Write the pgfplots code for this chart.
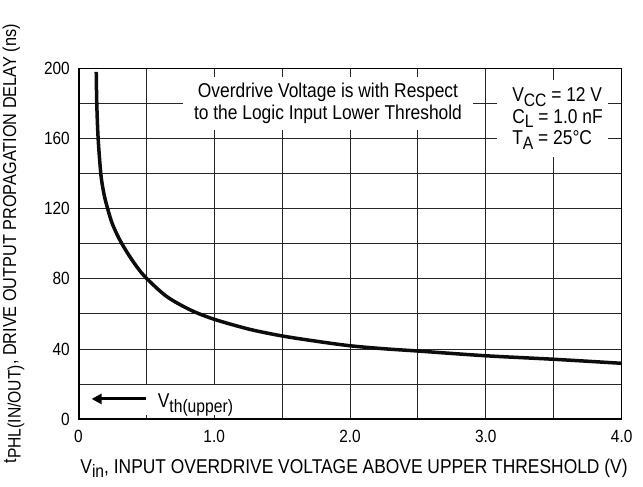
\documentclass[border=0pt]{standalone}
\usepackage{pgfplots}
\pgfplotsset{compat=1.18}
\usepackage{fontspec}
\setmainfont{Liberation Sans}[FakeStretch=0.87]
\usetikzlibrary{arrows.meta}
\newcommand{\sub}[1]{\raisebox{-4.5pt}{\fontsize{18}{20}\selectfont #1}}
\newcommand{\fs}{\fontsize{20}{22}\selectfont}
\newcommand{\ft}{\fontsize{17.7}{20}\selectfont}
\newcommand{\fy}{\fontsize{18.7}{20}\selectfont}
\begin{document}
\begin{tikzpicture}
\path[use as bounding box] (0,0) rectangle (643pt,487pt);
\begin{axis}[
  at={(78.3pt,67.7pt)}, anchor=south west,
  scale only axis, width=543.4pt, height=351pt,
  xmin=0, xmax=4, ymin=0, ymax=200,
  xtick={0,1,2,3,4}, xticklabels={0,1.0,2.0,3.0,4.0},
  minor xtick={0.5,1.5,2.5,3.5},
  ytick={0,40,80,120,160,200}, minor ytick={20,60,100,140,180},
  grid=both,
  major grid style={line width=1pt, black!85},
  minor grid style={line width=1pt, black!85},
  major tick length=0pt, minor tick length=0pt,
  axis line style={line width=1.3pt, black},
  tick label style={font=\ft},
  /pgf/number format/assume math mode=true,
  yticklabel style={xshift=-5pt},
  xticklabel style={yshift=-7pt},
]
\addplot[line width=3.5pt, black!95, smooth, tension=0.5] coordinates {
(0.132,198) (0.136,180) (0.146,160) (0.167,139) (0.19,128) (0.216,120)
(0.25,111.5) (0.30,103) (0.36,95) (0.43,87) (0.5,80.5) (0.65,70)
(0.825,62.3) (1.0,57) (1.26,51.3) (1.5,47.5) (1.75,44.5) (2.0,41.9)
(2.25,40.2) (2.5,38.9) (3.0,36.2) (3.5,34.2) (4.0,31.9)
};
\draw[line width=2.4pt] (rel axis cs:0,1) -- (rel axis cs:0,0) -- (rel axis cs:1,0);
\node[fill=white, minimum width=290pt, minimum height=53pt, inner sep=0pt, align=center, font=\fs] at (axis cs:1.838,180) {Overdrive Voltage is with Respect\\to the Logic Input Lower Threshold};
\fill[white] (axis cs:3.082,193.3) rectangle (axis cs:3.899,149.5);
\node[anchor=base west, inner sep=0pt, font=\fs] at (axis cs:3.193,180.96) {V\sub{CC} = 12 V};
\node[anchor=base west, inner sep=0pt, font=\fs] at (axis cs:3.193,168.7) {C\sub{L} = 1.0 nF};
\node[anchor=base west, inner sep=0pt, font=\fs] at (axis cs:3.193,156.3) {T\sub{A} = 25°C};
\fill[white] (axis cs:0.49,2.5) rectangle (axis cs:1.23,19.3);
\draw[line width=3pt, -{Triangle[length=10pt,width=10pt]}] (axis cs:0.495,11.6) -- (axis cs:0.098,11.6);
\node[anchor=base west, inner sep=0pt, font=\fs] at (axis cs:0.584,6.6) {V\sub{th(upper)}};
\end{axis}
\node[rotate=90, anchor=base, inner sep=0pt, font=\fy] at (16pt,243.2pt) {t\sub{PHL(IN/OUT)}, DRIVE OUTPUT PROPAGATION DELAY (ns)};
\node[anchor=base, inner sep=0pt, font=\fs] at (354pt,13.5pt) {V\sub{in}, INPUT OVERDRIVE VOLTAGE ABOVE UPPER THRESHOLD (V)};
\end{tikzpicture}
\end{document}
